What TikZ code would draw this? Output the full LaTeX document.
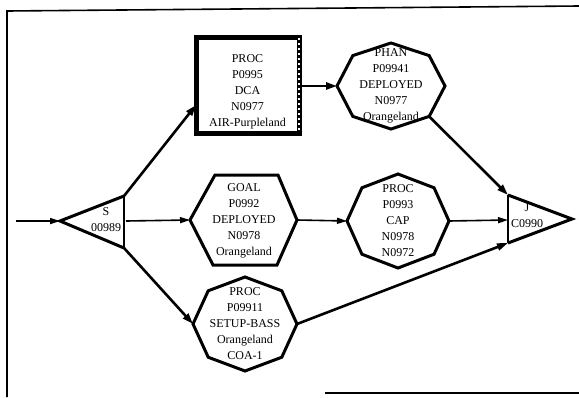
\documentclass[tikz,border=0pt]{standalone}
\usepackage{fontspec}
\setmainfont{Liberation Serif}
\usetikzlibrary{arrows.meta,calc}
\tikzset{
  lbl/.style={align=center, font=\fontsize{12}{16}\selectfont, inner sep=0pt},
  thickline/.style={line width=3pt, line join=miter},
  thinline/.style={line width=1.5pt},
  arr/.style={-{Triangle[length=11pt,width=7pt]}, line width=2.6pt},
  tarr/.style={-{Triangle[length=10pt,width=6pt]}, line width=1.6pt},
  frameline/.style={line width=1.6pt}
}
\newcommand{\octagon}[5]{% name, cx, cy, a, b
  \coordinate (#1) at (#2,#3);
  \foreach \ang/\nm in {0/e,45/se,90/s,135/sw,180/w,225/nw,270/n,315/ne}
    {\coordinate (#1-\nm) at ($(#2,#3)+({#4*cos(\ang)},{#5*sin(\ang)})$);}
  \draw[thickline] (#1-e) -- (#1-se) -- (#1-s) -- (#1-sw) -- (#1-w) -- (#1-nw) -- (#1-n) -- (#1-ne) -- cycle;
}
\begin{document}
\begin{tikzpicture}[x=1pt,y=-1pt]
\useasboundingbox (0,0) rectangle (579,397);
% frame
\coordinate (fr-tl) at (7,11);
\coordinate (fr-tr) at (579,6);
\coordinate (fr-bl) at (7,397);
\coordinate (fr-b1) at (325,393);
\coordinate (fr-b2) at (579,393);
\draw[frameline] (fr-bl) -- (fr-tl) -- (fr-tr);
\draw[frameline] (fr-b1) -- (fr-b2);

% S triangle
\coordinate (S-w) at (60,221);
\coordinate (S-n) at (124,196);
\coordinate (S-s) at (124,248);
\coordinate (S-e) at (126,221);
\draw[thickline] (S-n) -- (S-w) -- (S-s);
\draw[thinline] (S-n) -- (S-s);
\node[lbl] (Slbl) at (106,220) {S\\00989};
\coordinate (in) at (16,221);

% J triangle
\coordinate (J-nw) at (508,195);
\coordinate (J-sw) at (508,243);
\coordinate (J-e) at (572,219);
\coordinate (J-w) at (508,220);
\draw[thickline] (J-nw) -- (J-e) -- (J-sw);
\draw[thinline] (J-nw) -- (J-sw);
\node[lbl] (Jlbl) at (527,216) {J\\C0990};

% PROC box
\draw[line width=5pt] (299,37) -- (196,37) -- (196,133) -- (299,133);
\draw[line width=5pt] (299,34.5) -- (299,135.5);
\draw[white, line width=1.4pt, dash pattern=on 1.5pt off 3.5pt] (299,38) -- (299,132);
\node[lbl] (box) at (247.5,92) {PROC\\P0995\\DCA\\N0977\\AIR-Purpleland};
\coordinate (box-w) at (196,105);
\coordinate (box-e) at (301,86);

% PHAN octagon
\octagon{phan}{391}{86}{54}{43}
\node[lbl] (phanlbl) at (391,86) {PHAN\\P09941\\DEPLOYED\\N0977\\Orangeland};

% GOAL hexagon
\coordinate (goal-w) at (190,220);
\coordinate (goal-e) at (297,220);
\draw[thickline] (goal-w) -- (215,175) -- (278,175) -- (goal-e) -- (277,265) -- (213,265) -- cycle;
\node[lbl] (goallbl) at (244,221) {GOAL\\P0992\\DEPLOYED\\N0978\\Orangeland};

% PROC P0993 octagon
\octagon{cap}{398}{221}{51}{47}
\node[lbl] (caplbl) at (398,221) {PROC\\P0993\\CAP\\N0978\\N0972};

% SETUP-BASS octagon
\octagon{setup}{245}{324}{52}{47}
\node[lbl] (setuplbl) at (245,324) {PROC\\P09911\\SETUP-BASS\\Orangeland\\COA-1};

% connectors
\draw[tarr] (in) -- (S-w);
\draw[arr] (S-n) -- (box-w);
\draw[tarr] (S-e) -- (goal-w);
\draw[arr] (S-s) -- (setup-w);
\draw[arr] (box-e) -- (phan-w);
\draw[tarr] (goal-e) -- (cap-w);
\draw[arr] (phan-se) -- (J-nw);
\draw[tarr] (cap-e) -- (J-w);
\draw[arr] (setup-e) -- (J-sw);
\end{tikzpicture}
\end{document}
